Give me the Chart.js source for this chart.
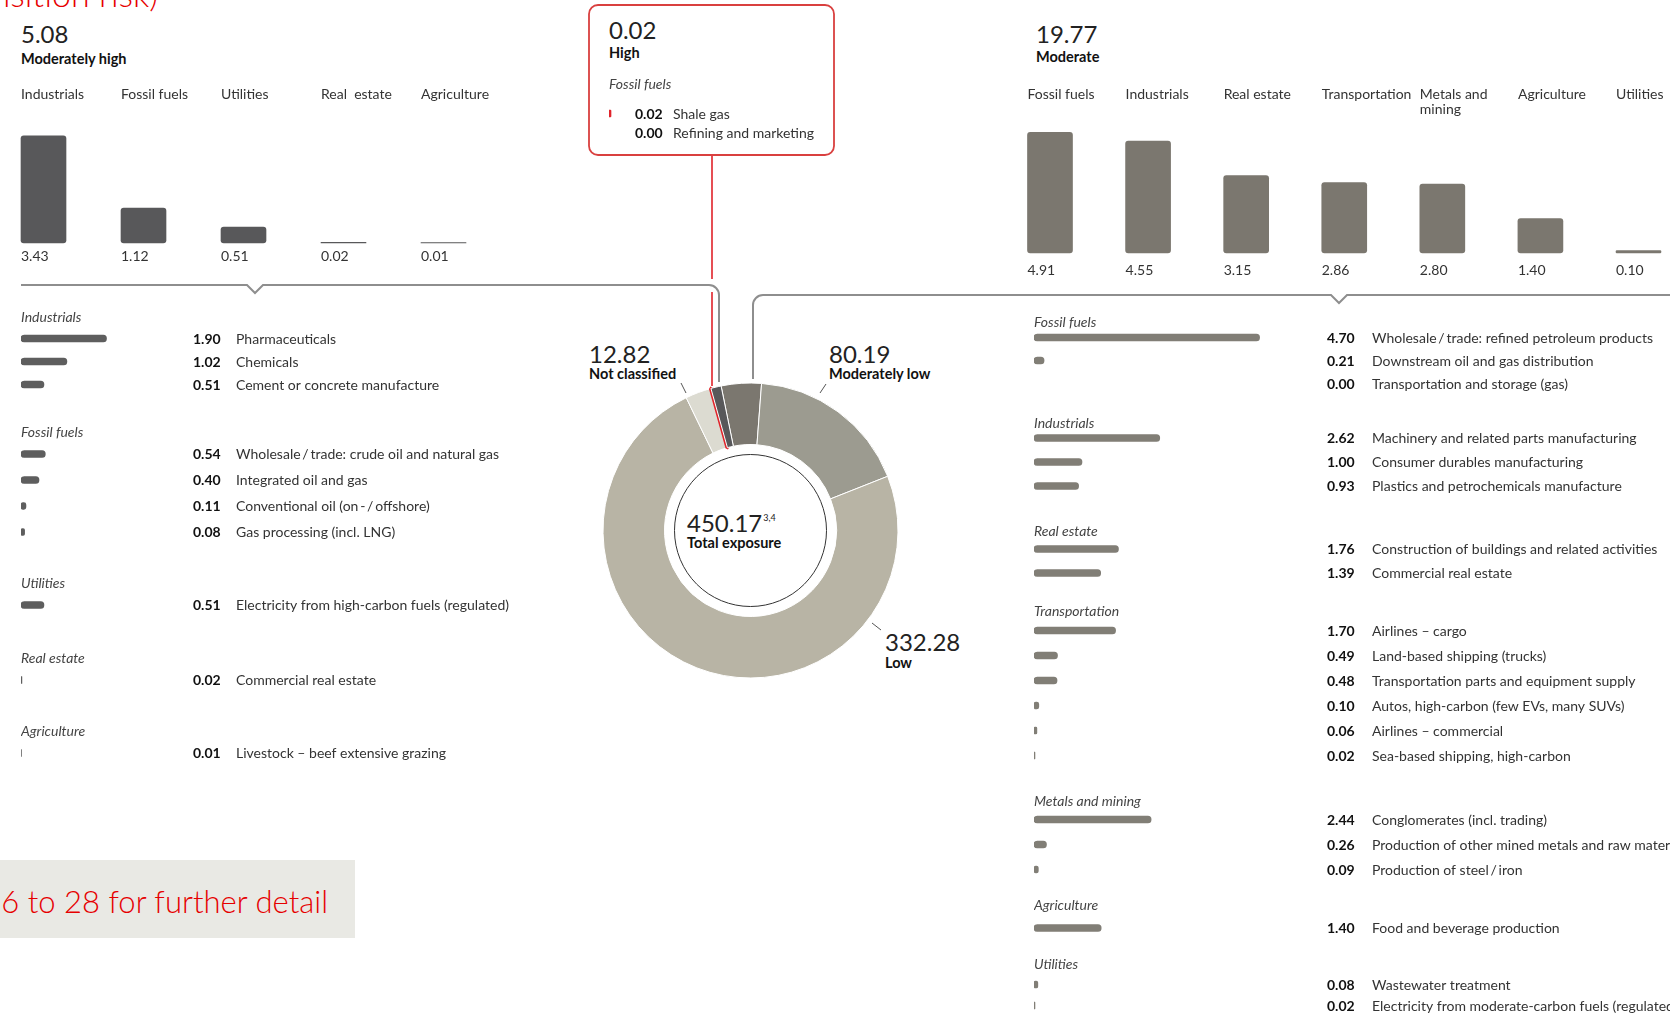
<!DOCTYPE html>
<html><head><meta charset="utf-8">
<script src="https://cdn.jsdelivr.net/npm/chart.js@4.4.1/dist/chart.umd.min.js"></script>
<style>
html,body{margin:0;padding:0;background:#fff;overflow:hidden;}
#stage{position:relative;width:1670px;height:1016px;overflow:hidden;}
#stage canvas{position:absolute;z-index:2;}
#deco{position:absolute;left:0;top:0;z-index:1;}
</style></head>
<body><div id="stage"><svg id="deco" width="1670" height="1016" xmlns="http://www.w3.org/2000/svg"></svg></div>
<script>
// ---------------- data ----------------
const ringLabels = ['Moderate','Moderately low','Low','Not classified','High','Moderately high'];
const ringValues = [19.77, 80.19, 332.28, 12.82, 0.02, 5.08];
const totalExposure = 450.17;

const mhCategories = ['Industrials','Fossil fuels','Utilities','Real  estate','Agriculture'];
const mhValues = [3.43, 1.12, 0.51, 0.02, 0.01];

const modCategories = ['Fossil fuels','Industrials','Real estate','Transportation',['Metals and','mining'],'Agriculture','Utilities'];
const modValues = [4.91, 4.55, 3.15, 2.86, 2.80, 1.40, 0.10];

const highSectorLabels = ['Shale gas','Refining and marketing'];
const highSectorValues = [0.02, 0.00];

const mhIndLabels = ['Pharmaceuticals','Chemicals','Cement or concrete manufacture'];
const mhIndValues = [1.90, 1.02, 0.51];
const mhFosLabels = ['Wholesale\u2009/\u2009trade: crude oil and natural gas','Integrated oil and gas','Conventional oil (on\u2009-\u2009/\u2009offshore)','Gas processing (incl. LNG)'];
const mhFosValues = [0.54, 0.40, 0.11, 0.08];
const mhUtiLabels = ['Electricity from high-carbon fuels (regulated)'];
const mhUtiValues = [0.51];
const mhReLabels = ['Commercial real estate'];
const mhReValues = [0.02];
const mhAgrLabels = ['Livestock \u2013 beef extensive grazing'];
const mhAgrValues = [0.01];

const modFosLabels = ['Wholesale\u2009/\u2009trade: refined petroleum products','Downstream oil and gas distribution','Transportation and storage (gas)'];
const modFosValues = [4.70, 0.21, 0.00];
const modIndLabels = ['Machinery and related parts manufacturing','Consumer durables manufacturing','Plastics and petrochemicals manufacture'];
const modIndValues = [2.62, 1.00, 0.93];
const modReLabels = ['Construction of buildings and related activities','Commercial real estate'];
const modReValues = [1.76, 1.39];
const modTraLabels = ['Airlines \u2013 cargo','Land-based shipping (trucks)','Transportation parts and equipment supply','Autos, high-carbon (few EVs, many SUVs)','Airlines \u2013 commercial','Sea-based shipping, high-carbon'];
const modTraValues = [1.70, 0.49, 0.48, 0.10, 0.06, 0.02];
const modMetLabels = ['Conglomerates (incl. trading)','Production of other mined metals and raw materials','Production of steel\u2009/\u2009iron'];
const modMetValues = [2.44, 0.26, 0.09];
const modAgrLabels = ['Food and beverage production'];
const modAgrValues = [1.40];
const modUtiLabels = ['Wastewater treatment','Electricity from moderate-carbon fuels (regulated)'];
const modUtiValues = [0.08, 0.02];

// ---------------- styles ----------------
const FONT = 'Lato, "Open Sans", sans-serif';
const C_MH = '#58585a', C_MOD = '#7b776f', C_MHL = '#5e5e5e', C_MODL = '#817e76', C_RED = '#e0242b';
const ringColors = ['#7b776f','#9c9b90','#b8b4a5','#dcdbd1', C_RED, '#58585a'];
const ringBorderColors = ['#fff','#fff','#fff','#fff', C_RED, '#fff'];
const ringBorderWidths = [1,1,1,1,4,1];
const RING_OUTER = 147.5, RING_INNER = 86;
Chart.defaults.font.family = FONT;

const stage = document.getElementById('stage');
function makeCanvas(left, top, w, h) {
  const c = document.createElement('canvas');
  c.width = w; c.height = h;
  c.style.left = left + 'px'; c.style.top = top + 'px';
  c.style.width = w + 'px'; c.style.height = h + 'px';
  stage.appendChild(c);
  return c;
}
const baseOpts = {responsive:false, animation:false, events:[], maintainAspectRatio:false};

// ---------------- plugins ----------------
const colLabelPlugin = {
  id: 'colLabels',
  afterDatasetsDraw(chart, args, o) {
    const ctx = chart.ctx, meta = chart.getDatasetMeta(0);
    const labels = chart.data.labels, vals = chart.data.datasets[0].data;
    ctx.save();
    ctx.font = '14px ' + FONT; ctx.fillStyle = '#333'; ctx.textAlign = 'left'; ctx.textBaseline = 'alphabetic';
    meta.data.forEach((bar, i) => {
      const left = bar.x - bar.width / 2;
      const lines = Array.isArray(labels[i]) ? labels[i] : [labels[i]];
      lines.forEach((ln, j) => ctx.fillText(ln, left, chart.chartArea.top - o.labelGap + j * o.lineH));
      ctx.fillText(vals[i].toFixed(2), left, chart.chartArea.bottom + o.valueGap);
    });
    ctx.restore();
  }
};
const rowTextPlugin = {
  id: 'rowText',
  afterDatasetsDraw(chart, args, o) {
    const ctx = chart.ctx, meta = chart.getDatasetMeta(0);
    const labels = chart.data.labels, vals = chart.data.datasets[0].data;
    ctx.save();
    ctx.textAlign = 'left'; ctx.textBaseline = 'alphabetic';
    if (o.title) {
      ctx.font = 'italic 14px ' + FONT; ctx.fillStyle = '#444';
      ctx.fillText(o.title, 0, meta.data[0].y - o.titleGap);
    }
    meta.data.forEach((bar, i) => {
      ctx.font = 'bold 14px ' + FONT; ctx.fillStyle = '#111';
      ctx.fillText(vals[i].toFixed(2), o.numX, bar.y + 5);
      ctx.font = '14px ' + FONT; ctx.fillStyle = '#333';
      ctx.fillText(labels[i], o.nameX, bar.y + 5);
    });
    ctx.restore();
  }
};
const innerCirclePlugin = {
  id: 'innerCircle',
  afterDatasetsDraw(chart) {
    const a = chart.getDatasetMeta(0).data[0], ctx = chart.ctx;
    ctx.save(); ctx.beginPath(); ctx.arc(a.x, a.y, 76, 0, Math.PI * 2);
    ctx.strokeStyle = '#333'; ctx.lineWidth = 1; ctx.stroke(); ctx.restore();
  }
};

// ---------------- top column charts ----------------
function columnChart(canvas, labels, values, color, pad, yMax, text) {
  new Chart(canvas, {
    type: 'bar',
    data: {labels, datasets: [{data: values, backgroundColor: color, barThickness: 45, borderRadius: 3, borderSkipped: false, clip: false}]},
    options: Object.assign({}, baseOpts, {
      layout: {padding: pad},
      scales: {x: {display: false, offset: false}, y: {display: false, min: 0, max: yMax}},
      plugins: {legend: {display: false}, tooltip: {enabled: false}, colLabels: text}
    }),
    plugins: [colLabelPlugin]
  });
}
columnChart(makeCanvas(0, 80, 520, 210), mhCategories, mhValues, C_MH,
  {left: 43.5, right: 76.5, top: 38, bottom: 47}, 4, {labelGap: 19, lineH: 15, valueGap: 18});
columnChart(makeCanvas(1000, 80, 670, 215), modCategories, modValues, C_MOD,
  {left: 50, right: 31.5, top: 50, bottom: 42}, 5, {labelGap: 31, lineH: 15, valueGap: 22});

// ---------------- donut ----------------
new Chart(makeCanvas(590, 370, 321, 321), {
  type: 'doughnut',
  data: {labels: ringLabels, datasets: [{data: ringValues, backgroundColor: ringColors, borderColor: ringBorderColors, borderWidth: ringBorderWidths}]},
  options: Object.assign({}, baseOpts, {
    radius: RING_OUTER, cutout: (RING_INNER / RING_OUTER * 100) + '%', rotation: -11.5,
    layout: {padding: 0},
    plugins: {legend: {display: false}, tooltip: {enabled: false}}
  }),
  plugins: [innerCirclePlugin]
});

// ---------------- detail lists ----------------
const PAD_TOP = 32;
function listChart(g) {
  const n = g.values.length;
  const h = PAD_TOP + n * g.pitch + 2;
  const top = Math.round(g.firstY - g.pitch / 2 - PAD_TOP);
  const cv = makeCanvas(g.left, top, g.width, h);
  new Chart(cv, {
    type: 'bar',
    data: {labels: g.labels, datasets: [{data: g.values,
      backgroundColor: c => (c.raw === 0 ? 'rgba(0,0,0,0)' : g.color),
      barThickness: 7, borderRadius: 4, borderSkipped: false}]},
    options: Object.assign({}, baseOpts, {
      indexAxis: 'y',
      layout: {padding: {top: PAD_TOP, bottom: 2, left: 0, right: g.width - g.barW}},
      scales: {x: {type: 'linear', display: false, min: 0, max: g.barW / g.pxu}, y: {display: false}},
      plugins: {legend: {display: false}, tooltip: {enabled: false},
        rowText: {title: g.title, titleGap: g.titleGap, numX: g.numX, nameX: g.nameX}}
    }),
    plugins: [rowTextPlugin]
  });
}
const L = {left: 21, width: 520, barW: 150, pxu: 45, numX: 172, nameX: 215, color: C_MHL, titleGap: 17};
const R = {left: 1034, width: 636, barW: 280, pxu: 48, numX: 293, nameX: 338, color: C_MODL};
[
  Object.assign({}, L, {title: 'Industrials', labels: mhIndLabels, values: mhIndValues, firstY: 338, pitch: 23}),
  Object.assign({}, L, {title: 'Fossil fuels', labels: mhFosLabels, values: mhFosValues, firstY: 454, pitch: 26}),
  Object.assign({}, L, {title: 'Utilities', labels: mhUtiLabels, values: mhUtiValues, firstY: 605, pitch: 24}),
  Object.assign({}, L, {title: 'Real estate', labels: mhReLabels, values: mhReValues, firstY: 680, pitch: 24}),
  Object.assign({}, L, {title: 'Agriculture', labels: mhAgrLabels, values: mhAgrValues, firstY: 753, pitch: 24}),
  Object.assign({}, R, {title: 'Fossil fuels', labels: modFosLabels, values: modFosValues, firstY: 337, pitch: 23, titleGap: 11}),
  Object.assign({}, R, {title: 'Industrials', labels: modIndLabels, values: modIndValues, firstY: 438, pitch: 24, titleGap: 10}),
  Object.assign({}, R, {title: 'Real estate', labels: modReLabels, values: modReValues, firstY: 549, pitch: 24, titleGap: 13}),
  Object.assign({}, R, {title: 'Transportation', labels: modTraLabels, values: modTraValues, firstY: 630, pitch: 25, titleGap: 15}),
  Object.assign({}, R, {title: 'Metals and mining', labels: modMetLabels, values: modMetValues, firstY: 819, pitch: 25, titleGap: 14}),
  Object.assign({}, R, {title: 'Agriculture', labels: modAgrLabels, values: modAgrValues, firstY: 928, pitch: 24, titleGap: 18}),
  Object.assign({}, R, {title: 'Utilities', labels: modUtiLabels, values: modUtiValues, firstY: 984, pitch: 21, titleGap: 16}),
  {title: 'Fossil fuels', labels: highSectorLabels, values: highSectorValues, left: 609, width: 215, barW: 20, pxu: 100,
   numX: 26, nameX: 64, color: C_RED, firstY: 113, pitch: 19, titleGap: 25}
].forEach(listChart);

// ---------------- decoration + headline text (SVG) ----------------
const svg = document.getElementById('deco');
let s = '';
function tx(x, y, str, o = {}) {
  s += `<text x="${x}" y="${y}" font-family='${FONT}' font-size="${o.size || 14.5}" font-weight="${o.w || 400}"` +
       `${o.it ? ' font-style="italic"' : ''} fill="${o.fill || '#222'}" text-anchor="${o.anchor || 'start'}">${str}</text>`;
}
const f2 = v => v.toFixed(2);
// connectors
s += `<path d="M21,285 H247 L255,293 L263,285 H709 A10,10 0 0 1 719,295 V382" fill="none" stroke="#8e8e8e" stroke-width="2"/>`;
s += `<path d="M753,379 V305 A10,10 0 0 1 763,295 H1331 L1339,303 L1347,295 H1670" fill="none" stroke="#8e8e8e" stroke-width="2"/>`;
s += `<path d="M712,155 V279 M712,292 V386" fill="none" stroke="${C_RED}" stroke-width="1.6"/>`;
// high box
s += `<rect x="589" y="5" width="245" height="150" rx="9" ry="9" fill="#fff" stroke="#d9403f" stroke-width="1.8"/>`;
tx(609, 39, f2(ringValues[4]), {size: 24});
tx(609, 58, 'High', {w: 700, fill: '#111'});
// moderately high / moderate headlines
tx(21, 43, f2(ringValues[5]), {size: 24});
tx(21, 64, 'Moderately high', {w: 700, fill: '#111'});
tx(1036, 43, f2(ringValues[0]), {size: 24});
tx(1036, 62, 'Moderate', {w: 700, fill: '#111'});
// donut labels
tx(589, 363, f2(ringValues[3]), {size: 24});
tx(589, 379, 'Not classified', {w: 700, fill: '#111'});
tx(829, 363, f2(ringValues[1]), {size: 24});
tx(829, 379, 'Moderately low', {w: 700, fill: '#111'});
tx(885, 651, f2(ringValues[2]), {size: 24});
tx(885, 668, 'Low', {w: 700, fill: '#111'});
s += `<path d="M681,383 L686,393 M826,384 L820,393 M872,623 L881,630" stroke="#555" stroke-width="1" fill="none"/>`;
s += `<text x="687" y="532" font-family='${FONT}' font-size="24" font-weight="400" fill="#222">${f2(totalExposure)}<tspan font-size="9" dy="-11" dx="1">3,4</tspan></text>`;
tx(687, 548, 'Total exposure', {w: 700, fill: '#111'});
// page title fragment and footer note
tx(158, 7, 'Climate-related exposure (transition risk)', {size: 34, w: 300, fill: '#e60000', anchor: 'end'});
s += `<rect x="0" y="860" width="355" height="78" fill="#e9e9e4"/>`;
tx(328, 913, 'Refer to pages 26 to 28 for further detail', {size: 31, w: 300, fill: '#e60000', anchor: 'end'});
svg.innerHTML = s;
</script>
</body></html>
